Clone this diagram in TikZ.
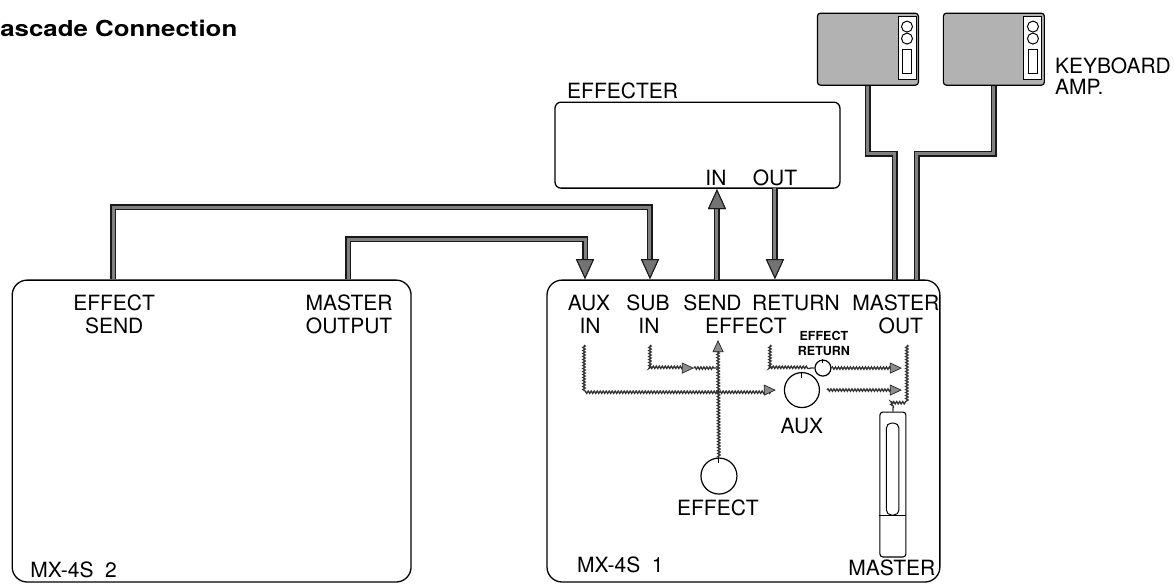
\documentclass[tikz,border=0pt]{standalone}
\usepackage{fontspec}
\setmainfont{TeX Gyre Heros}
\usetikzlibrary{arrows.meta,decorations.pathmorphing,calc}

\tikzset{
  unit/.style={draw, line width=1.3pt, rounded corners=15pt, inner sep=0pt},
  lbl/.style={inner sep=0pt, font=\fontsize{21}{22}\selectfont},
  tinylbl/.style={inner sep=0pt, font=\bfseries\fontsize{12.5}{13}\selectfont},
  bigtip/.tip={Triangle[width=18pt,length=20pt,line width=1pt,color=black!90,fill=black!55]},
  sigtip/.tip={Triangle[width=11pt,length=12pt,line width=0.7pt,color=black!85,fill=black!45]},
  cable/.style={line width=6.5pt, draw=black!90, postaction={draw=black!50, line width=3pt}},
  sig/.style={draw=black!80, line width=1.3pt, decorate,
    decoration={snake, amplitude=1.2pt, segment length=3pt, post length=3pt}},
  knob/.style={circle, draw, line width=1.2pt, inner sep=0pt, minimum size=#1},
  amp/.style={draw, line width=1.2pt, rounded corners=3pt, fill=black!30,
    minimum width=101pt, minimum height=72pt, inner sep=0pt},
  panel/.style={draw, line width=1pt, fill=white}
}

\begin{document}
\begin{tikzpicture}[scale=1.000000,x=1pt,y=-1pt]
\filldraw[color=white] (0,0) rectangle (1174,583);
\useasboundingbox (0,0) rectangle (1174,583);
% Title
\node[anchor=base west, inner sep=0pt, font=\bfseries\fontsize{22}{24}\selectfont] (title) at (-18.7,36) {\scalebox{1.175}[1]{Cascade Connection}};
% Drawing units
\node[unit, minimum width=399pt, minimum height=302pt] (mxb) at (211.5,431) {};
\node[unit, minimum width=393pt, minimum height=302pt] (mxa) at (743.5,431) {};
\node[unit, rounded corners=6pt, minimum width=285pt, minimum height=86pt] (fx) at (697.5,145) {};
\node[lbl, anchor=west] (fxname) at (567,91) {EFFECTER};
\node[lbl] (fxinlbl) at (716,177.5) {IN};
\node[lbl] (fxoutlbl) at (775,177.5) {OUT};
% Keyboard amps
\foreach \ax/\nm in {868/ampa, 994/ampb} {
  \node[amp] (\nm) at (\ax,49) {};
  \draw[panel] ($(\nm.north east)+(-21,4)$) rectangle ($(\nm.south east)+(-3,-6)$);
  \draw[line width=1pt] ($(\nm.north east)+(-12,14)$) circle[radius=5.5pt];
  \draw[line width=1pt] ($(\nm.north east)+(-12,26)$) circle[radius=5.5pt];
  \draw[line width=1pt] ($(\nm.north east)+(-16.5,37)$) rectangle ($(\nm.north east)+(-7.5,61)$);
}
\node[lbl, anchor=west] (kbd) at (1055,66) {KEYBOARD};
\node[lbl, anchor=west] (kbdamp) at (1055,86.5) {AMP.};
% MX-4S 2 labels
\node[lbl] (sendb1) at (114,302.5) {EFFECT};
\node[lbl] (sendb2) at (114,326) {SEND};
\node[lbl] (outb1) at (349,302.5) {MASTER};
\node[lbl] (outb2) at (349,326) {OUTPUT};
\node[lbl, anchor=west] (nameb) at (30,569.5) {MX-4S\ \ 2};
% MX-4S 1 labels
\node[lbl] (auxa1) at (589,302.5) {AUX};
\node[lbl] (auxa2) at (590,325.5) {IN};
\node[lbl] (suba1) at (648,302.5) {SUB};
\node[lbl] (suba2) at (649,325.5) {IN};
\node[lbl] (senda1) at (712.5,302.5) {SEND};
\node[lbl] (senda2) at (746,325.5) {EFFECT};
\node[lbl] (reta1) at (796,302.5) {RETURN};
\node[lbl] (msta1) at (896,302.5) {MASTER};
\node[lbl] (msta2) at (901,325.5) {OUT};
\node[tinylbl] (retk1) at (824,336) {EFFECT};
\node[tinylbl] (retk2) at (824,351) {RETURN};
\node[lbl, anchor=west] (namea) at (577,564.5) {MX-4S\ \ 1};
\node[lbl] (mstlbl) at (892,567.5) {MASTER};
% Ports
\coordinate (mxb-send) at (113,279);
\coordinate (mxb-out) at (348,279);
\coordinate (mxa-aux) at (585,279);
\coordinate (mxa-sub) at (650,279);
\coordinate (mxa-send) at (717,280);
\coordinate (mxa-ret) at (775,279);
\coordinate (mxa-mst1) at (895,280);
\coordinate (mxa-mst2) at (917,280);
\coordinate (fx-in) at (717,189);
\coordinate (fx-out) at (775,188);
% Cables
\draw[cable,-bigtip] (mxb-send) -- ++(0,-72) -| (mxa-sub);
\draw[cable,-bigtip] (mxb-out) -- ++(0,-40) -| (mxa-aux);
\draw[cable,-bigtip] (mxa-send) -- (fx-in);
\draw[cable,-bigtip] (fx-out) -- (mxa-ret);
\draw[cable] (ampa.south) -- ++(0,68) -| (mxa-mst1);
\draw[cable] (ampb.south) -- ++(0,68) -| (mxa-mst2);
% Knobs and fader
\node[knob=35pt] (auxk) at (802,390) {};
\node[knob=36pt] (fxk) at (719,476) {};
\node[knob=16pt] (retk) at (823,368) {};
\draw[line width=1pt] (auxk.north) -- ++(0,6);
\draw[line width=1pt] (fxk.north) -- ++(0,6);
\draw[line width=1pt] (retk.north) -- ++(0,4);
\node[lbl] (auxklbl) at (802,425.5) {AUX};
\node[lbl] (fxklbl) at (718,507.5) {EFFECT};
\node[draw, line width=1.1pt, rounded corners=3pt, minimum width=26pt, minimum height=145pt, inner sep=0pt] (fader) at (893,484.5) {};
\draw[line width=1pt, rounded corners=5pt] (886.5,515) rectangle (899,423);
\draw[line width=1pt] (fader.west |- 0,515) -- (fader.east |- 0,515);
% Signal flow
\coordinate (auxin) at (584,345);
\coordinate (subin) at (650,345);
\coordinate (retin) at (770,345);
\coordinate (mstout) at (907,345);
\coordinate (fxjoin) at (718,368);
\coordinate (fxsend) at (718,340);
\coordinate (mstin1) at (902,368);
\coordinate (mstin2) at (902,390);
\coordinate (mstbend) at (907,401);
\draw[sig,-sigtip] (auxin) |- ($(auxk.west)+(-8,0)$);
\draw[sig,-sigtip] (subin) |- ($(subin |- fxjoin)+(44,0)$);
\draw[sig] ($(subin |- fxjoin)+(44,0)$) -- (fxjoin);
\draw[sig,-sigtip] (fxk.north) -- (fxsend);
\draw[sig] (retin) |- (retk.west);
\draw[sig,-sigtip] (retk.east) -- (mstin1);
\draw[sig,-sigtip] ($(auxk.east)+(7,0)$) -- (mstin2);
\draw[sig] (mstout) -- (mstbend) -| (fader.north);
\end{tikzpicture}
\end{document}
